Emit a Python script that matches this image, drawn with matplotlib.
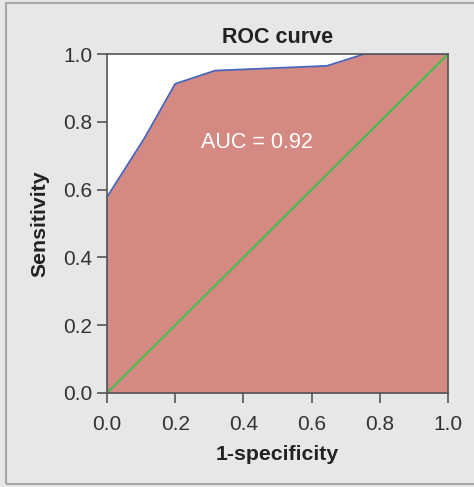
import matplotlib
matplotlib.use("Agg")
import matplotlib.pyplot as plt
from matplotlib.patches import Rectangle

plt.rcParams['font.family'] = ['Liberation Sans', 'DejaVu Sans']

# ROC points
fpr = [0.0, 0.0, 0.11, 0.20, 0.317, 0.645, 0.755, 1.0]
tpr = [0.0, 0.578, 0.752, 0.912, 0.951, 0.965, 1.0, 1.0]
auc_text = "AUC = 0.92"
ticks = [0.0, 0.2, 0.4, 0.6, 0.8, 1.0]

fig = plt.figure(figsize=(4.74, 4.87), dpi=100)
fig.patch.set_facecolor("#e6e7e9")
# frame around the panel (open on the right side)
fig.patches.append(Rectangle((6 / 474, 3 / 487), 480 / 474, 481 / 487,
                             transform=fig.transFigure, fill=False,
                             edgecolor="#a7a8aa", linewidth=1.5))

ax = fig.add_axes([107 / 474, 1 - 393 / 487, 341 / 474, 339 / 487])
ax.set_facecolor("white")

ax.fill_between(fpr, tpr, 0, color="#d48a82", linewidth=0)
ax.plot(fpr, tpr, color="#4a62b8", linewidth=1.3)
ax.plot([0, 1], [0, 1], color="#4dbb4d", linewidth=1.6)

ax.text(0.44, 0.74, auc_text, color="white", fontsize=15.5, ha="center", va="center")

ax.set_xlim(0, 1)
ax.set_ylim(0, 1)
ax.set_xticks(ticks)
ax.set_yticks(ticks)
ax.set_xticklabels([f"{t:.1f}" for t in ticks])
ax.set_yticklabels([f"{t:.1f}" for t in ticks])
ax.tick_params(length=7, width=1.2, color="#555555", labelsize=15,
               labelcolor="#333333")
ax.tick_params(axis="x", pad=8.5)
ax.tick_params(axis="y", pad=3.5)
for s in ax.spines.values():
    s.set_color("#555555")
    s.set_linewidth(1.2)

ax.set_title("ROC curve", fontsize=15.5, fontweight="bold", color="#222222", pad=8)
ax.set_xlabel("1-specificity", fontsize=15.3, fontweight="bold", color="#222222", labelpad=8)
ax.set_ylabel("Sensitivity", fontsize=15.3, fontweight="bold", color="#222222", labelpad=10)

fig.savefig("out.png", dpi=100, facecolor=fig.get_facecolor())
